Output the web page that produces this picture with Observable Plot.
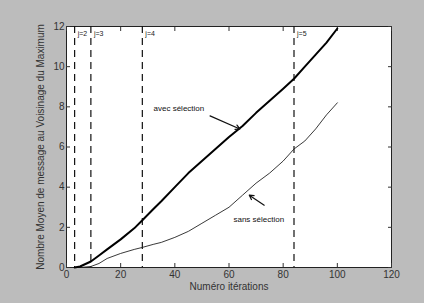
<!DOCTYPE html>
<html><head><meta charset="utf-8">
<script src="https://cdn.jsdelivr.net/npm/d3@7"></script>
<script src="https://cdn.jsdelivr.net/npm/@observablehq/plot@0.6"></script>
<style>
body{margin:0;background:#bcbcbc;}
#c svg{display:block;}
</style></head>
<body><div id="c"></div>
<script>
const xTicks = [0, 20, 40, 60, 80, 100, 120];
const yTicks = [0, 2, 4, 6, 8, 10, 12];

const avecX = [3, 5, 9, 12, 15, 20, 25, 28, 32, 35, 40, 45, 50, 55, 60, 65, 70, 75, 80, 84, 88, 92, 96, 100];
const avecY = [0, 0.05, 0.3, 0.6, 0.9, 1.4, 1.95, 2.35, 2.9, 3.3, 4.0, 4.7, 5.3, 5.9, 6.5, 7.05, 7.7, 8.3, 8.9, 9.4, 10.0, 10.6, 11.2, 11.9];

const sansX = [5, 9, 12, 15, 20, 25, 28, 32, 35, 40, 45, 50, 55, 60, 65, 70, 75, 80, 84, 88, 92, 96, 100];
const sansY = [0, 0.05, 0.2, 0.45, 0.7, 0.9, 1.0, 1.15, 1.25, 1.5, 1.8, 2.2, 2.6, 3.0, 3.6, 4.2, 4.7, 5.3, 5.9, 6.3, 6.9, 7.6, 8.2];

const jX = [3, 9, 28, 84];
const jLabels = ["j=2", "j=3", "j=4", "j=5"];

const annLabels = ["avec sélection", "sans sélection"];
const annX = [41.5, 71];
const annY = [7.9, 2.4];
const arrowFrom = [[53, 7.55], [73, 3.1]];
const arrowTo = [[64, 6.9], [67.5, 3.6]];

const avec = avecX.map((x, i) => ({x, y: avecY[i]}));
const sans = sansX.map((x, i) => ({x, y: sansY[i]}));
const jdata = jX.map((x, i) => ({x, label: jLabels[i]}));
const arrows = arrowFrom.map((f, i) => ({x1: f[0], y1: f[1], x2: arrowTo[i][0], y2: arrowTo[i][1]}));

const chart = Plot.plot({
  width: 424, height: 303,
  marginLeft: 66, marginRight: 33, marginTop: 26, marginBottom: 36,
  style: {background: "#bcbcbc", fontFamily: "Liberation Sans, Arial, sans-serif", fontSize: "10px", color: "#333"},
  x: {domain: [0, 120], ticks: xTicks},
  y: {domain: [0, 12], ticks: yTicks},
  marks: [
    Plot.frame({fill: "white", stroke: "#222", strokeWidth: 1}),
    Plot.axisX({ticks: xTicks, tickSize: -4, tickPadding: 7, label: "Numéro itérations", labelAnchor: "center", labelOffset: 22, labelArrow: "none", fontSize: 10}),
    Plot.axisX({anchor: "top", ticks: xTicks, tickSize: -4, tickFormat: () => "", label: null}),
    Plot.axisY({ticks: yTicks, tickSize: -4, tickPadding: 6, label: "Nombre Moyen de message au Voisinage du Maximum", labelAnchor: "center", labelOffset: 30, labelArrow: "none", fontSize: 10}),
    Plot.axisY({anchor: "right", ticks: yTicks, tickSize: -4, tickFormat: () => "", label: null}),
    Plot.ruleX(jdata, {x: "x", stroke: "#111", strokeWidth: 1.2, strokeDasharray: "7,5"}),
    Plot.text(jdata, {x: "x", y: 12, text: "label", dx: 3, dy: 7, textAnchor: "start", fontSize: 7, fill: "#222"}),
    Plot.line(sans, {x: "x", y: "y", stroke: "#222", strokeWidth: 0.9}),
    Plot.line(avec, {x: "x", y: "y", stroke: "#000", strokeWidth: 2}),
    Plot.text(annLabels.map((t, i) => ({t, x: annX[i], y: annY[i], b: i === 0})), {x: "x", y: "y", text: "t", fontSize: 8, fontWeight: d => d.b ? "bold" : "normal", fill: "#111"}),
    Plot.arrow(arrows, {x1: "x1", y1: "y1", x2: "x2", y2: "y2", stroke: "#111", strokeWidth: 1.2, headLength: 6})
  ]
});
document.getElementById("c").appendChild(chart);
</script>
</body></html>
